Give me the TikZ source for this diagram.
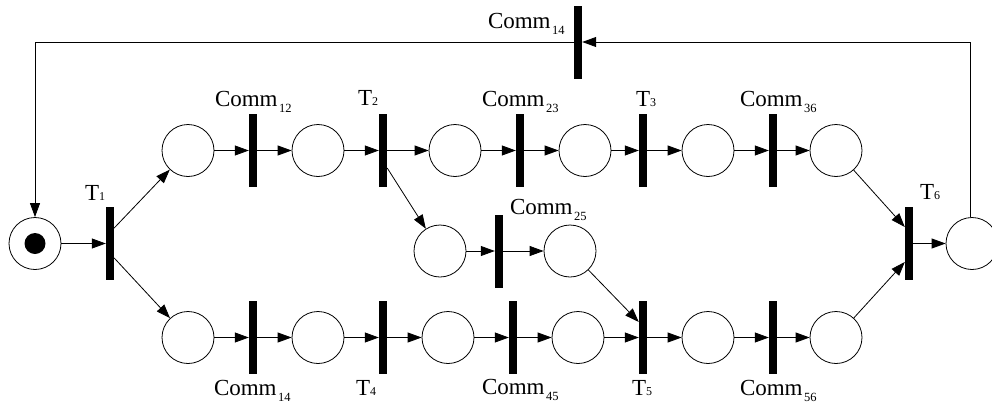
\documentclass[tikz,border=0pt]{standalone}
\usepackage{fontspec}
\setmainfont{Liberation Serif}
\usetikzlibrary{arrows.meta}
\newcommand\cmlab[1]{\fontsize{23}{26}\selectfont Comm\kern1.5pt\raisebox{-6pt}{\fontsize{12.5}{13}\selectfont #1}}
\newcommand\tlab[1]{\fontsize{23}{26}\selectfont T{\fontsize{12}{13}\selectfont #1}}
\tikzset{
  place/.style={circle,draw,line width=0.8pt,minimum size=52pt,inner sep=0pt},
  bar/.style={rectangle,fill=black,minimum width=8pt,minimum height=73pt,inner sep=0pt},
  lab/.style={anchor=base west,inner sep=0pt,outer sep=0pt},
  arc/.style={line width=0.8pt,-{Triangle[length=14pt,width=10pt]}},
  plain/.style={line width=0.8pt}
}
\begin{document}
\begin{tikzpicture}[x=1pt,y=-1pt]
\clip (0,0) rectangle (992,407);
\useasboundingbox (0,0) rectangle (992,407);
% places
\node[place] (init) at (35,243.5) {};
\fill (init.center) circle (10.5pt);
\node[place] (top1) at (188,150.5) {};
\node[place] (top2) at (318,150.5) {};
\node[place] (top3) at (455,150.5) {};
\node[place] (top4) at (585,150.5) {};
\node[place] (top5) at (708,150.5) {};
\node[place] (top6) at (836,150.5) {};
\node[place] (mid1) at (440,251) {};
\node[place] (mid2) at (570,251) {};
\node[place] (bot1) at (188,337.5) {};
\node[place] (bot2) at (318,337.5) {};
\node[place] (bot3) at (448,337.5) {};
\node[place] (bot4) at (578,337.5) {};
\node[place] (bot5) at (708,337.5) {};
\node[place] (bot6) at (836,337.5) {};
\node[place] (right) at (972,243.5) {};
% transitions
\node[bar] (T1) at (110,243.5) {};
\node[bar] (C12) at (253,150.5) {};
\node[bar] (T2) at (383,150.5) {};
\node[bar] (C23) at (520,150.5) {};
\node[bar] (T3) at (643,150.5) {};
\node[bar] (C36) at (773,150.5) {};
\node[bar] (C14t) at (578,42) {};
\node[bar] (C25) at (499,251) {};
\node[bar] (C14b) at (253,337.5) {};
\node[bar] (T4) at (383,337.5) {};
\node[bar] (C45) at (513,337.5) {};
\node[bar] (T5) at (643,337.5) {};
\node[bar] (C56) at (773,337.5) {};
\node[bar] (T6) at (909,243.5) {};
% labels
\node[lab] (lT1) at (85,200) {\tlab{1}};
\node[lab] (lT2) at (358,105) {\tlab{2}};
\node[lab] (lT3) at (636,106) {\tlab{3}};
\node[lab] (lT4) at (356,395) {\tlab{4}};
\node[lab] (lT5) at (632,395) {\tlab{5}};
\node[lab] (lT6) at (920,199) {\tlab{6}};
\node[lab] (lC12) at (215,106) {\cmlab{12}};
\node[lab] (lC23) at (482,106) {\cmlab{23}};
\node[lab] (lC36) at (740,106) {\cmlab{36}};
\node[lab] (lC14t) at (488,28) {\cmlab{14}};
\node[lab] (lC25) at (510,214) {\cmlab{25}};
\node[lab] (lC14b) at (214,395) {\cmlab{14}};
\node[lab] (lC45) at (482,394) {\cmlab{45}};
\node[lab] (lC56) at (740,395) {\cmlab{56}};
% arcs
\draw[arc] (init) -- (T1);
\draw[arc] ([yshift=15.5pt]T1.east) -- (top1);
\draw[arc] ([yshift=-14.5pt]T1.east) -- (bot1);
\draw[arc] (top1) -- (C12);
\draw[arc] (C12) -- (top2);
\draw[arc] (top2) -- (T2);
\draw[arc] (T2) -- (top3);
\draw[arc] ([yshift=-17.5pt]T2.east) -- (mid1);
\draw[arc] (top3) -- (C23);
\draw[arc] (C23) -- (top4);
\draw[arc] (top4) -- (T3);
\draw[arc] (T3) -- (top5);
\draw[arc] (top5) -- (C36);
\draw[arc] (C36) -- (top6);
\draw[arc] (top6) -- ([yshift=16.5pt]T6.west);
\draw[arc] (mid1) -- (C25);
\draw[arc] (C25) -- (mid2);
\draw[arc] (mid2) -- ([yshift=15.5pt]T5.west);
\draw[arc] (bot1) -- (C14b);
\draw[arc] (C14b) -- (bot2);
\draw[arc] (bot2) -- (T4);
\draw[arc] (T4) -- (bot3);
\draw[arc] (bot3) -- (C45);
\draw[arc] (C45) -- (bot4);
\draw[arc] (bot4) -- (T5);
\draw[arc] (T5) -- (bot5);
\draw[arc] (bot5) -- (C56);
\draw[arc] (C56) -- (bot6);
\draw[arc] (bot6) -- ([yshift=-18.5pt]T6.west);
\draw[arc] (T6) -- (right);
\draw[arc] ([xshift=-2pt]right.north) |- (C14t);
\draw[arc] (C14t) -| (init);
\end{tikzpicture}
\end{document}
